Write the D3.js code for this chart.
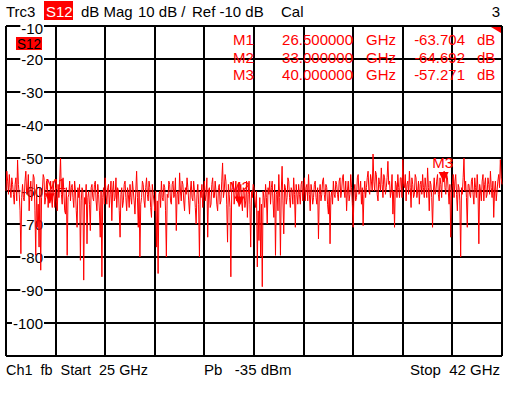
<!DOCTYPE html>
<html><head><meta charset="utf-8">
<script src="https://cdn.jsdelivr.net/npm/d3@7"></script>
<style>
html,body{margin:0;padding:0;background:#fff;}
svg{display:block;font-family:"Liberation Sans",Arial,sans-serif;}
text{white-space:pre;}
</style></head>
<body>
<svg id="c" width="512" height="396"></svg>
<script>
// ---- data ----
const startGHz = 25, stopGHz = 42;
const yTicks = [-10,-20,-30,-40,-50,-60,-70,-80,-90,-100,-110];
const yTickLabels = ["-10","-20","-30","-40","-50","-60","-70","-80","-90","-100",""];
const xDivs = [25,26.7,28.4,30.1,31.8,33.5,35.2,36.9,38.6,40.3,42];
const markerNames = ["M1","M2","M3"];
const markerFreqs = [26.5, 33.0, 40.0];
const markerVals = [-63.704, -64.692, -57.271];
const traceVals = [
-60,-54,-57,-61,-55,-59,-62,-56,-58,-61,-64,-58,-56,-63,-50.6,-58,-61,-66,-79,-62,
-58,-62,-63,-57,-54,-61,-60,-55,-66,-60,-57,-63,-61,-55,-56,-66,-79.5,-58,-71,-64,
-77,-59,-84,-62,-60,-55,-56,-64,-62,-57,-58,-65,-60,-63.7,-57,-62,-65,-57,-61,-65,
-59,-63,-66,-58,-62,-57,-50,-61,-64,-56,-60,-66,-67,-59,-79.5,-62,-61,-57,-63,-59,
-58,-62,-65,-57,-60,-66,-71,-59,-62,-58,-81,-63,-59,-60,-87,-62,-64,-58,-76,-62,
-60,-64,-72,-59,-58,-62,-63,-58,-57,-63,-66,-58,-61,-66,-74,-60,-86,-62,-59,-64,
-56,-61,-64,-59,-58,-65,-61,-57,-69,-60,-57,-63,-62,-56,-65,-59,-60,-66,-74,-61,
-59,-65,-63,-58,-57,-62,-66,-59,-61,-65,-58,-62,-64,-57,-60,-63,-67,-60,-54,-62,
-71,-60,-80,-64,-62,-57,-58,-63,-65,-59,-56,-61,-63,-57,-59,-65,-68,-58,-61,-63,
-66,-60,-77,-63,-85,-61,-60,-65,-57,-62,-63,-58,-59,-66,-80,-61,-62,-57,-58,-63,
-64,-58,-57,-62,-61,-56,-72,-61,-60,-64,-54.5,-60,-63,-57,-58,-63,-66,-59,-61,-56,
-59,-63,-67,-60,-57,-62,-63,-57,-60,-65,-70,-61,-58,-64,-80,-60,-62,-58,-65,-60,
-57,-63,-61,-56,-74,-60,-59,-65,-64,-58,-56,-62,-62,-57,-60,-64,-66,-59,-58,-64,
-63,-57,-51.5,-62,-60,-55,-57,-64,-75.5,-58,-61,-65,-86,-60,-59,-57,-64,-61,-57,-63,
-62,-58,-64.7,-60,-58,-63,-66,-59,-60,-65,-63,-57,-68,-61,-57,-64,-77,-60,-62,-58,
-59,-63,-65,-60,-83,-66,-75,-62,-80,-64,-89,-60,-62,-65,-58,-62,-70,-59,-61,-57,
-64,-59,-57,-63,-68,-58,-79.5,-61,-60,-66,-55,-62,-79.5,-60,-52.5,-63,-73,-58,-59,-64,
-62,-56,-57,-62,-65,-59,-60,-64,-56,-61,-71,-58,-61,-64,-58,-61,-64,-58,-57,-63,
-60,-56,-63,-59,-58,-63,-55,-61,-66,-58,-60,-64,-62,-58,-57,-62,-64,-59,-74.5,-61,
-58,-63,-61,-57,-56,-61,-63,-58,-59,-64,-67,-60,-76,-62,-60,-64,-57,-61,-62,-57,
-58,-61,-63,-57,-56,-62,-60,-56,-55,-60,-62,-57,-66,-60,-57,-63,-61,-55,-59,-64,
-71,-60,-58,-63,-62,-56,-55,-61,-60,-57,-64,-59,-70.5,-61,-57,-62,-59,-56,-54,-60,
-61,-55,-57,-60,-48.8,-57,-60,-54,-55,-61,-63,-56,-58,-60,-53,-58,-62,-55,-56,-61,
-59,-56,-51,-58,-57,-62,-60,-55,-67,-60,-71,-57,-58,-62,-55,-59,-62,-56,-56,-62,
-50.5,-58,-59,-55,-63,-58,-57,-61,-54,-59,-65,-56,-58,-62,-61,-55,-56,-62,-60,-57,
-64,-58,-57,-61,-55,-59,-62,-56,-59,-62,-53,-59,-66,-57,-58,-62,-71,-60,-56,-61,
-60,-57,-55,-61,-63,-56,-58,-62,-55,-57.3,-54,-59,-61,-55,-56,-60,-64,-58,-74,-60,
-58,-55,-62,-57,-55,-61,-66,-58,-59,-63,-80,-59,-61,-56,-50,-60,-57,-62,-71,-58,
-58,-61,-62,-57,-56,-61,-64,-56,-59,-62,-55,-60,-76,-58,-60,-63,-57,-55,-63,-58,
-56,-62,-61,-56,-58,-61,-54,-59,-62,-57,-68,-60,-57,-63,-60,-57,-55,-59,-50.5,-56,-58
];
const traceFreqs = traceVals.map((v,i)=> startGHz + i*(stopGHz-startGHz)/(traceVals.length-1));

// ---- layout ----
const svg = d3.select("#c");
const L=6, R=502, T=26, B=356;
const x = d3.scaleLinear().domain([startGHz, stopGHz]).range([L, R]);
const y = d3.scaleLinear().domain([-110, -10]).range([B, T]);
const red = "#ff0000";

// header
const hb = 17;
const hdr = svg.append("g").attr("font-size", 15).attr("fill", "#000");
hdr.append("text").attr("x", 6).attr("y", hb).text("Trc3");
hdr.append("rect").attr("x", 44).attr("y", 1).attr("width", 29).attr("height", 19).attr("fill", red);
hdr.append("text").attr("x", 46).attr("y", hb).attr("fill", "#fff").text("S12");
hdr.append("text").attr("x", 81).attr("y", hb).text("dB Mag");
hdr.append("text").attr("x", 138).attr("y", hb).text("10 dB /");
hdr.append("text").attr("x", 192).attr("y", hb).text("Ref -10 dB");
hdr.append("text").attr("x", 281).attr("y", hb).text("Cal");
hdr.append("text").attr("x", 500).attr("y", hb).attr("text-anchor","end").text("3");

// grid
const grid = svg.append("g").attr("stroke", "#000").attr("stroke-width", 2);
yTicks.forEach(t => grid.append("line").attr("x1", L).attr("x2", R).attr("y1", Math.round(y(t))).attr("y2", Math.round(y(t))));
xDivs.forEach(f => grid.append("line").attr("x1", Math.round(x(f))).attr("x2", Math.round(x(f))).attr("y1", T).attr("y2", B));

// y tick labels with white background
const yl = svg.append("g").attr("font-size", 15);
yTicks.forEach((t,i) => {
  if (!yTickLabels[i]) return;
  const g = yl.append("g");
  const base = Math.round(y(t)) + (i === 0 ? 8 : 5.5);
  const tx = g.append("text").attr("x", 43).attr("y", base).attr("text-anchor", "end").text(yTickLabels[i]);
  const bb = tx.node().getBBox();
  g.insert("rect", "text").attr("x", bb.x - 1).attr("y", Math.round(y(t)) - 6).attr("width", bb.width + 2).attr("height", 12).attr("fill", "#fff");
});

// in-plot S12 tag
svg.append("rect").attr("x", 16).attr("y", 37).attr("width", 26).attr("height", 13).attr("fill", red);
svg.append("text").attr("x", 17).attr("y", 49).attr("font-size", 14).attr("textLength", 24).attr("lengthAdjust","spacingAndGlyphs").attr("fill", "#000").text("S12");

// marker table
const mt = svg.append("g").attr("font-size", 15).attr("fill", red);
const rowY = [45, 62.5, 80];
markerNames.forEach((m,i) => {
  mt.append("text").attr("x", 233).attr("y", rowY[i]).text(m);
  mt.append("text").attr("x", 353).attr("y", rowY[i]).attr("text-anchor","end").text(markerFreqs[i].toFixed(6));
  mt.append("text").attr("x", 366).attr("y", rowY[i]).text("GHz");
  mt.append("text").attr("x", 465).attr("y", rowY[i]).attr("text-anchor","end").text(markerVals[i].toFixed(3));
  mt.append("text").attr("x", 477).attr("y", rowY[i]).text("dB");
});

// corner triangle
svg.append("path").attr("d", `M${R-11},${T+1}L${R-1},${T+1}L${R-1},${T+7}Z`).attr("fill", red);

// marker symbols & labels
const mk = svg.append("g");
const labelDx = [6, 0, -1];
markerNames.forEach((m,i) => {
  const mx = x(markerFreqs[i]), my = y(markerVals[i]);
  mk.append("path").attr("d", `M${mx-5},${my-10}L${mx+5},${my-10}L${mx},${my}Z`).attr("fill", red);
  mk.append("text").attr("x", mx + labelDx[i]).attr("y", my - 14).attr("text-anchor","middle").attr("font-size", 15).attr("fill", red).text(m);
});

// trace
const line = d3.line().x((d,i)=>x(traceFreqs[i])).y(d=>y(d));
svg.append("path").datum(traceVals).attr("d", line).attr("fill","none").attr("stroke", red).attr("stroke-width", 1);

// footer
const ft = svg.append("g").attr("font-size", 15).attr("fill", "#000");
ft.append("text").attr("x", 6).attr("y", 375).attr("textLength", 142).attr("lengthAdjust","spacingAndGlyphs").text("Ch1  fb  Start  25 GHz");
ft.append("text").attr("x", 204).attr("y", 375).text("Pb   -35 dBm");
ft.append("text").attr("x", 500).attr("y", 375).attr("text-anchor","end").text("Stop  42 GHz");
</script>
</body></html>
